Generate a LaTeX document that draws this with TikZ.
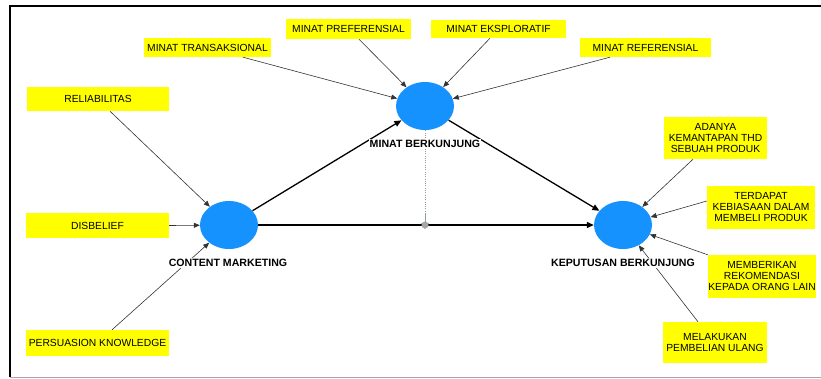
\documentclass[tikz,border=0pt]{standalone}
\usepackage{fontspec}
\setmainfont{Liberation Sans}
\usetikzlibrary{arrows.meta,shapes.geometric}
\definecolor{boxyellow}{RGB}{255,255,0}
\definecolor{lvblue}{RGB}{22,146,255}
\definecolor{modgray}{RGB}{140,160,140}
\begin{document}
\begin{tikzpicture}[x=1pt,y=-1pt,
  ind/.style={fill=boxyellow, font=\fontsize{10.3}{11}\selectfont, align=center, inner sep=0pt},
  lv/.style={ellipse, fill=lvblue, minimum width=58pt, minimum height=48pt, inner sep=0pt},
  lab/.style={font=\bfseries\fontsize{10.6}{12}\selectfont, fill=white, inner sep=1pt},
  thinarr/.style={draw=black!80, line width=0.6pt, -{Triangle[length=6pt,width=5pt]}},
  mainarr/.style={draw=black, line width=1.3pt, -{Triangle[length=7pt,width=6pt]}},
  modline/.style={draw=modgray, line width=0.9pt, dash pattern=on 1pt off 1.3pt},
  modtip/.style={draw=modgray, line width=0.8pt, -{Straight Barb[length=5pt,width=7pt]}}]
\useasboundingbox (0,0) rectangle (821,378);
% frame
\draw[line width=2pt, black] (10,377) -- (10,6) -- (821,6);
\draw[line width=1pt, gray!70] (10,377) -- (821,377);
% latent variables
\node[lv] (cm) at (229,225) {};
\node[lv] (mb) at (425,106) {};
\node[lv] (kb) at (623,225) {};
% indicators
\node[ind, minimum width=127pt, minimum height=19pt] (trans) at (207.5,47.5) {MINAT TRANSAKSIONAL};
\node[ind, minimum width=125pt, minimum height=20pt] (pref) at (348.5,29) {MINAT PREFERENSIAL};
\node[ind, minimum width=135pt, minimum height=18pt] (eksp) at (498.5,29) {MINAT EKSPLORATIF};
\node[ind, minimum width=131pt, minimum height=19pt] (refe) at (645.5,47.5) {MINAT REFERENSIAL};
\node[ind, minimum width=142pt, minimum height=24pt] (reli) at (98,99) {RELIABILITAS};
\node[ind, minimum width=143pt, minimum height=25pt] (disb) at (97.5,225.5) {DISBELIEF};
\node[ind, minimum width=143pt, minimum height=26pt] (pers) at (97.5,343) {PERSUASION KNOWLEDGE};
\node[ind, minimum width=103pt, minimum height=42pt] (ada) at (715.5,138) {ADANYA\\KEMANTAPAN THD\\SEBUAH PRODUK};
\node[ind, minimum width=108pt, minimum height=43pt] (ter) at (761,207.5) {TERDAPAT\\KEBIASAAN DALAM\\MEMBELI PRODUK};
\node[ind, minimum width=108pt, minimum height=43pt] (mem) at (762,276.5) {MEMBERIKAN\\REKOMENDASI\\KEPADA ORANG LAIN};
\node[ind, minimum width=104pt, minimum height=41pt] (mel) at (715,342.5) {MELAKUKAN\\PEMBELIAN ULANG};
% moderating point
\coordinate (modpt) at (425,225);
\coordinate (modtipstart) at (425,214);
\draw[modline] (mb.south) -- ([yshift=-4pt]modpt);
\draw[modtip] (modtipstart) -- ([yshift=-4pt]modpt);
% indicator arrows
\draw[thinarr] ([xshift=12pt]reli.south) -- (cm);
\draw[thinarr] (disb.east) -- (cm);
\draw[thinarr] ([xshift=14.5pt]pers.north) -- (cm);
\draw[thinarr] ([xshift=35.5pt]trans.south) -- (mb);
\draw[thinarr] ([xshift=10.5pt]pref.south) -- (mb);
\draw[thinarr] ([xshift=-8.5pt]eksp.south) -- (mb);
\draw[thinarr] ([xshift=-35.5pt]refe.south) -- (mb);
\draw[thinarr] ([xshift=-22.5pt]ada.south) -- (kb);
\draw[thinarr] ([yshift=6.5pt]ter.west) -- (kb);
\draw[thinarr] (mem.north west) -- (kb);
\draw[thinarr] ([xshift=-17pt]mel.north) -- (kb);
% structural paths
\draw[mainarr] (cm) -- (mb);
\draw[mainarr] (mb) -- (kb);
\draw[mainarr] (cm) -- (kb);
\fill[gray!70] (modpt) circle (3.5pt);
% labels
\node[lab] (cml) at (228,263) {CONTENT MARKETING};
\node[lab] (mbl) at (425,144) {MINAT BERKUNJUNG};
\node[lab] (kbl) at (623,263) {KEPUTUSAN BERKUNJUNG};
\end{tikzpicture}
\end{document}
